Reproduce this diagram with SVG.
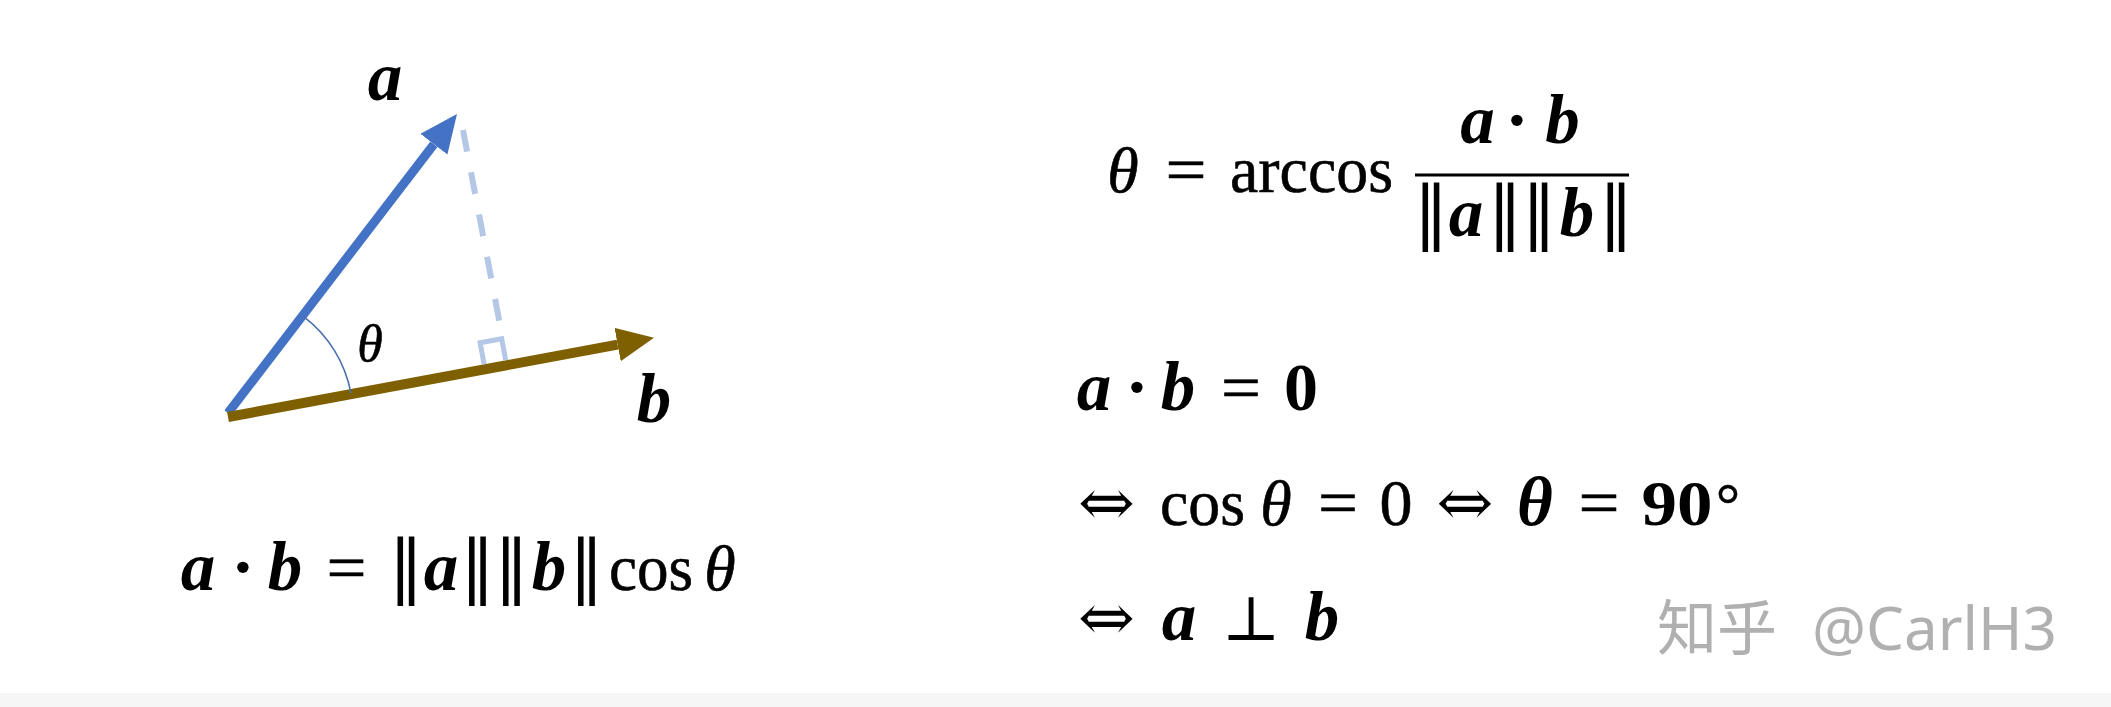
<svg xmlns="http://www.w3.org/2000/svg" width="2111" height="707" viewBox="0 0 2111 707">
<style>
.m{font-family:"Liberation Serif","DejaVu Serif",serif;font-size:66px;fill:#000;text-anchor:middle}
.bi{font-weight:bold;font-style:italic;font-size:69px}
.it{font-style:italic;font-size:64px}
.rg{stroke:#000;stroke-width:0.6px}
.b{font-weight:bold}
.dot{font-weight:bold;font-size:70px}
.sym{font-family:"DejaVu Serif","Liberation Serif",serif;font-size:62px}
.bar{font-family:"DejaVu Serif","Liberation Serif",serif;font-size:70px}
.arr{font-family:"DejaVu Serif","Liberation Serif",serif;font-size:66px}
.l{text-anchor:start}
.wm{font-family:"Noto Sans","Noto Sans CJK SC",sans-serif;font-size:60px;fill:#b0b0b0}
</style>
<defs>
<marker id="ahBlue" markerUnits="userSpaceOnUse" markerWidth="40" markerHeight="36" refX="0" refY="17" orient="auto">
<path d="M0,0 L38,17 L0,34 z" fill="#4472c4"/>
</marker>
<marker id="ahBrown" markerUnits="userSpaceOnUse" markerWidth="40" markerHeight="36" refX="0" refY="17" orient="auto">
<path d="M0,0 L37,17 L0,34 z" fill="#7f6000"/>
</marker>
</defs>
<rect width="2111" height="707" fill="#ffffff"/>
<rect x="0" y="693" width="2111" height="14" fill="#f6f6f6"/>

<g id="connectors">
<line id="vec-a" x1="228" y1="413" x2="433.9" y2="144.2" stroke="#4472c4" stroke-width="9" marker-end="url(#ahBlue)"/>
<line id="vec-b" x1="228" y1="417" x2="617.6" y2="344.6" stroke="#7f6000" stroke-width="10" marker-end="url(#ahBrown)"/>
<line id="proj" x1="463" y1="130" x2="501" y2="330" stroke="#b4c7e7" stroke-width="6" stroke-dasharray="22 21"/>
<polyline id="right-angle" points="484.1,364.3 480.1,342.7 501.7,338.7 505.7,360.3" fill="none" stroke="#b4c7e7" stroke-width="5"/>
<path id="angle-arc" d="M304,316.8 A125,125 0 0 1 350.9,393.1" fill="none" stroke="#4a6fb0" stroke-width="1.6"/>
</g>

<g id="label-a"><text class="m bi" x="385" y="100">a</text></g>
<g id="label-b"><text class="m bi" x="654" y="422">b</text></g>
<g id="label-theta"><text class="m it rg" x="370" y="361" style="font-size:52px">θ</text></g>

<g id="formula-dot">
<text class="m" y="590"><tspan class="bi" x="198">a</tspan><tspan class="dot" x="243">·</tspan><tspan class="bi" x="285">b</tspan><tspan class="rg" x="346.5" textLength="40" lengthAdjust="spacingAndGlyphs">=</tspan><tspan class="bar" x="406">‖</tspan><tspan class="bi" x="441">a</tspan><tspan class="bar" x="477.5">‖</tspan><tspan class="bar" x="511.5">‖</tspan><tspan class="bi" x="549">b</tspan><tspan class="bar" x="586.5">‖</tspan><tspan class="rg" x="651" textLength="84" lengthAdjust="spacingAndGlyphs">cos</tspan><tspan class="it rg" x="720">θ</tspan></text>
</g>

<g id="formula-arccos">
<text class="m" y="192"><tspan class="it rg" x="1123">θ</tspan><tspan class="rg" x="1186" textLength="41" lengthAdjust="spacingAndGlyphs">=</tspan><tspan class="rg" x="1311.5" textLength="163" lengthAdjust="spacingAndGlyphs">arccos</tspan></text>
<text class="m" y="143"><tspan class="bi" x="1477.5">a</tspan><tspan class="dot" x="1517">·</tspan><tspan class="bi" x="1562.5">b</tspan></text>
<line x1="1415" y1="175" x2="1629" y2="175" stroke="#000" stroke-width="3"/>
<text class="m" y="236"><tspan class="bar" x="1431">‖</tspan><tspan class="bi" x="1466">a</tspan><tspan class="bar" x="1505">‖</tspan><tspan class="bar" x="1539">‖</tspan><tspan class="bi" x="1577">b</tspan><tspan class="bar" x="1616">‖</tspan></text>
</g>

<g id="line-1">
<text class="m" y="410"><tspan class="bi" x="1094">a</tspan><tspan class="dot" x="1137">·</tspan><tspan class="bi" x="1178">b</tspan><tspan class="rg" x="1241" textLength="40" lengthAdjust="spacingAndGlyphs">=</tspan><tspan class="b" x="1301" style="font-size:68px">0</tspan></text>
</g>

<g id="line-2">
<text class="m" y="525"><tspan class="arr" x="1106.5" textLength="57" lengthAdjust="spacingAndGlyphs">⇔</tspan><tspan class="rg" x="1202.5" textLength="85" lengthAdjust="spacingAndGlyphs">cos</tspan><tspan class="it rg" x="1276">θ</tspan><tspan class="rg" x="1338" textLength="40" lengthAdjust="spacingAndGlyphs">=</tspan><tspan class="rg" x="1396">0</tspan><tspan class="arr" x="1465" textLength="57" lengthAdjust="spacingAndGlyphs">⇔</tspan><tspan class="bi" x="1535">θ</tspan><tspan class="rg" x="1599" textLength="41" lengthAdjust="spacingAndGlyphs">=</tspan><tspan class="b" x="1677" textLength="71" lengthAdjust="spacingAndGlyphs" style="font-size:64px">90</tspan><tspan class="rg" x="1728" style="font-size:60px">°</tspan></text>
</g>

<g id="line-3">
<text class="m" y="640"><tspan class="arr" x="1106.5" textLength="57" lengthAdjust="spacingAndGlyphs">⇔</tspan><tspan class="bi" x="1179">a</tspan><tspan class="sym" x="1251">⊥</tspan><tspan class="bi" x="1322">b</tspan></text>
</g>

<g id="watermark">
<text class="wm" y="650"><tspan x="1657" style="font-family:'Noto Sans CJK SC',sans-serif">知乎</tspan><tspan x="1812" textLength="245" lengthAdjust="spacingAndGlyphs">@CarlH3</tspan></text>
</g>
</svg>
